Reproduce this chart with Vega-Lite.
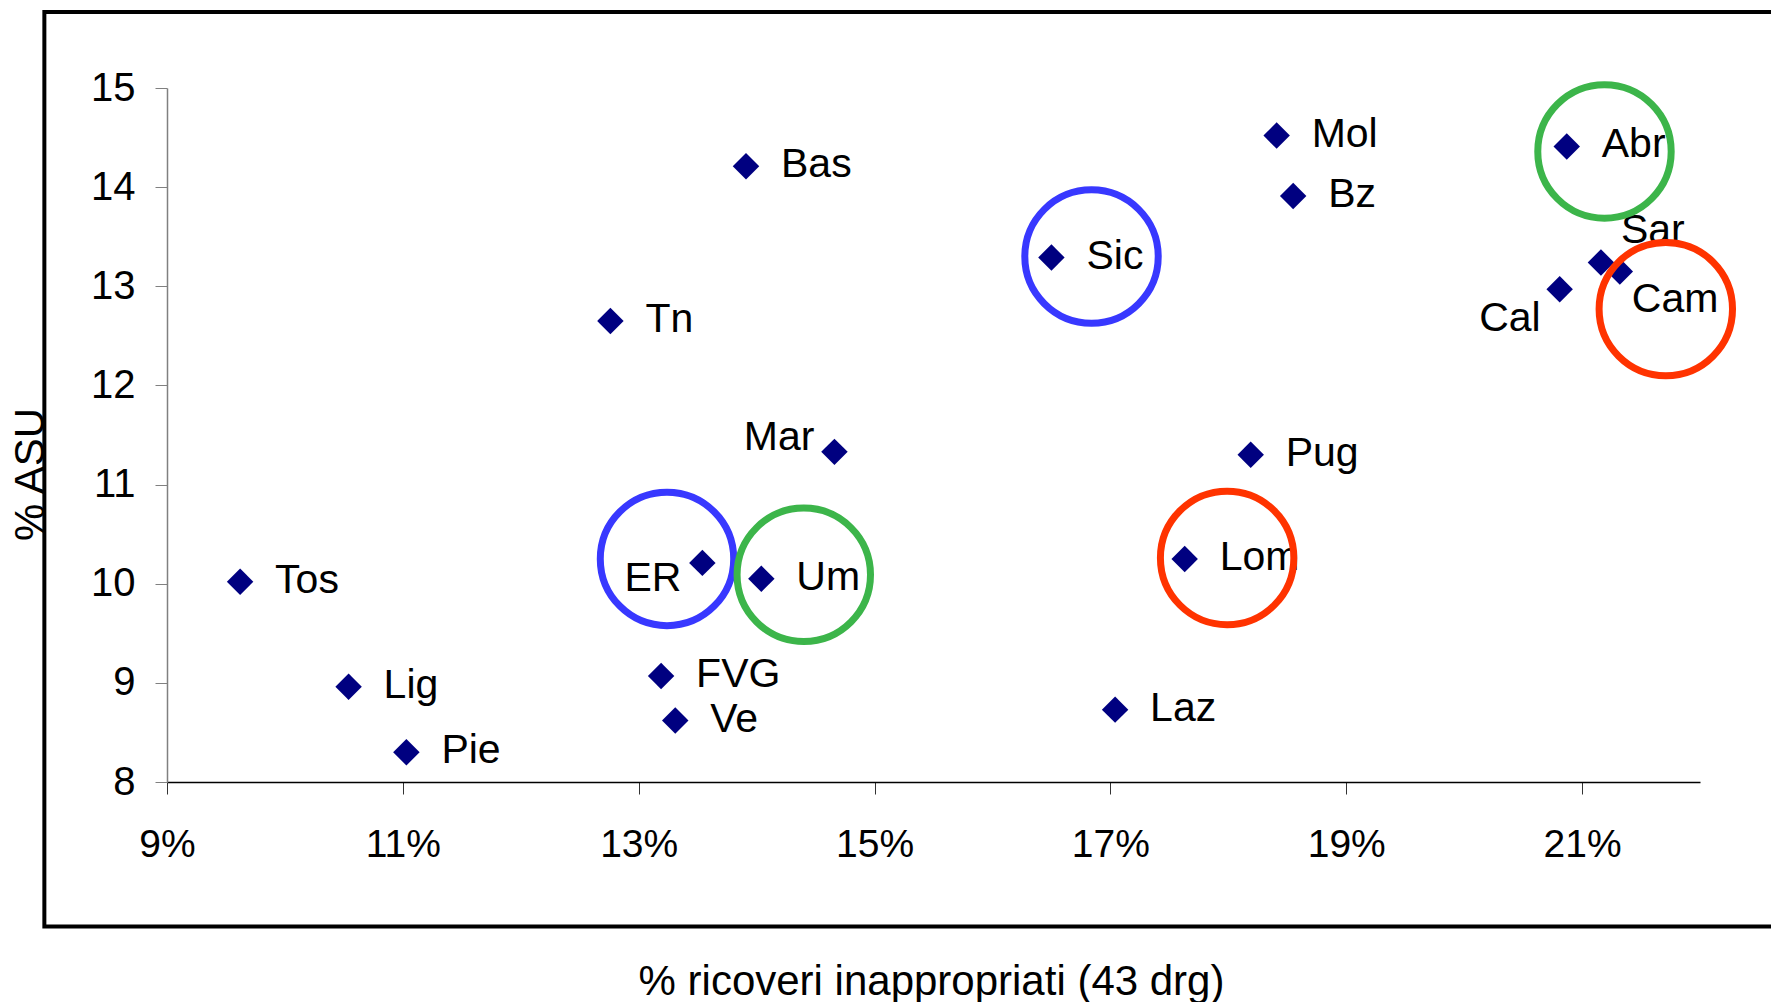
{
  "$schema": "https://vega.github.io/schema/vega-lite/v6.json",
  "width": 1533,
  "height": 694,
  "autosize": {"type": "none"},
  "padding": {"left": 167, "top": 88, "right": 71, "bottom": 220},
  "background": "white",
  "config": {
    "view": {"stroke": null},
    "font": "Liberation Sans",
    "text": {"font": "Liberation Sans"}
  },
  "datasets": {
    "regions": [
      {"name": "Tos", "x": 0.0962, "y": 10.02},
      {"name": "Lig", "x": 0.1054, "y": 8.96},
      {"name": "Pie", "x": 0.1103, "y": 8.30},
      {"name": "Tn", "x": 0.1276, "y": 12.65},
      {"name": "FVG", "x": 0.1319, "y": 9.07},
      {"name": "Ve", "x": 0.1331, "y": 8.62},
      {"name": "ER", "x": 0.1354, "y": 10.21},
      {"name": "Bas", "x": 0.1391, "y": 14.21},
      {"name": "Um", "x": 0.1404, "y": 10.05},
      {"name": "Mar", "x": 0.1466, "y": 11.33},
      {"name": "Sic", "x": 0.1650, "y": 13.29},
      {"name": "Laz", "x": 0.1704, "y": 8.73},
      {"name": "Lom", "x": 0.1763, "y": 10.25},
      {"name": "Pug", "x": 0.1819, "y": 11.30},
      {"name": "Mol", "x": 0.1841, "y": 14.52},
      {"name": "Bz", "x": 0.1855, "y": 13.91},
      {"name": "Cal", "x": 0.2081, "y": 12.97},
      {"name": "Abr", "x": 0.2087, "y": 14.41},
      {"name": "Sar", "x": 0.2116, "y": 13.24},
      {"name": "Cam", "x": 0.2132, "y": 13.15}
    ],
    "rings": [
      {"name": "Sic", "x": 0.1684, "y": 13.30, "group": "blu"},
      {"name": "ER", "x": 0.1324, "y": 10.25, "group": "blu"},
      {"name": "Um", "x": 0.1440, "y": 10.09, "group": "verde"},
      {"name": "Lom", "x": 0.1799, "y": 10.26, "group": "rosso"},
      {"name": "Abr", "x": 0.2119, "y": 14.36, "group": "verde"},
      {"name": "Cam", "x": 0.2171, "y": 12.77, "group": "rosso"}
    ]
  },
  "layer": [
    {
      "data": {"values": [{"frame": 1}]},
      "mark": {"type": "rect", "fill": null, "stroke": "black", "strokeWidth": 4, "clip": false},
      "encoding": {
        "x": {"datum": 0.0796, "type": "quantitative"},
        "x2": {"datum": 0.2268},
        "y": {"datum": 15.767, "type": "quantitative"},
        "y2": {"datum": 6.5425}
      }
    },
    {
      "data": {"name": "regions"},
      "mark": {"type": "point", "shape": "diamond", "filled": true, "color": "#000080", "opacity": 1, "size": 700},
      "encoding": {
        "x": {
          "field": "x", "type": "quantitative",
          "scale": {"domain": [0.09, 0.22], "nice": false, "zero": false},
          "axis": {
            "values": [0.09, 0.11, 0.13, 0.15, 0.17, 0.19, 0.21],
            "format": ".0%",
            "grid": false,
            "domainColor": "#000000",
            "domainWidth": 1.5,
            "tickColor": "#333333",
            "tickSize": 12,
            "labelFont": "Liberation Sans",
            "labelFontSize": 39,
            "labelColor": "#000000",
            "labelBaseline": "alphabetic",
            "labelPadding": 62,
            "labelFlush": false,
            "labelOverlap": false,
            "title": "% ricoveri inappropriati (43 drg)",
            "titleFont": "Liberation Sans",
            "titleFontSize": 42,
            "titleFontWeight": "normal",
            "titleColor": "#000000",
            "titleBaseline": "alphabetic",
            "titleX": 764,
            "titleY": 212
          }
        },
        "y": {
          "field": "y", "type": "quantitative",
          "scale": {"domain": [8, 15], "nice": false, "zero": false},
          "axis": {
            "values": [8, 9, 10, 11, 12, 13, 14, 15],
            "format": "d",
            "grid": false,
            "domainColor": "#808080",
            "domainWidth": 1.5,
            "tickColor": "#808080",
            "tickSize": 12,
            "labelFont": "Liberation Sans",
            "labelFontSize": 40,
            "labelColor": "#000000",
            "labelPadding": 20,
            "labelFlush": false,
            "labelOverlap": false,
            "title": "% ASU",
            "titleFont": "Liberation Sans",
            "titleFontSize": 42,
            "titleFontWeight": "normal",
            "titleColor": "#000000",
            "titleAngle": -90,
            "titleAlign": "center",
            "titleBaseline": "middle",
            "titleX": -137,
            "titleY": 386
          }
        }
      }
    },
    {
      "data": {"name": "regions"},
      "transform": [{"filter": "indexof(['Mar','ER','Cal','Sar','Cam'], datum.name) < 0"}],
      "mark": {"type": "text", "align": "left", "baseline": "middle", "dx": 35, "dy": -1, "fontSize": 41, "color": "#000000"},
      "encoding": {
        "x": {"field": "x", "type": "quantitative"},
        "y": {"field": "y", "type": "quantitative"},
        "text": {"field": "name"}
      }
    },
    {
      "data": {"name": "regions"},
      "transform": [{"filter": "datum.name === 'Mar'"}],
      "mark": {"type": "text", "align": "right", "baseline": "middle", "dx": -20, "dy": -14, "fontSize": 41, "color": "#000000"},
      "encoding": {
        "x": {"field": "x", "type": "quantitative"},
        "y": {"field": "y", "type": "quantitative"},
        "text": {"field": "name"}
      }
    },
    {
      "data": {"name": "regions"},
      "transform": [{"filter": "datum.name === 'ER'"}],
      "mark": {"type": "text", "align": "right", "baseline": "middle", "dx": -21, "dy": 16, "fontSize": 41, "color": "#000000"},
      "encoding": {
        "x": {"field": "x", "type": "quantitative"},
        "y": {"field": "y", "type": "quantitative"},
        "text": {"field": "name"}
      }
    },
    {
      "data": {"name": "regions"},
      "transform": [{"filter": "datum.name === 'Cal'"}],
      "mark": {"type": "text", "align": "right", "baseline": "middle", "dx": -19, "dy": 30, "fontSize": 41, "color": "#000000"},
      "encoding": {
        "x": {"field": "x", "type": "quantitative"},
        "y": {"field": "y", "type": "quantitative"},
        "text": {"field": "name"}
      }
    },
    {
      "data": {"name": "regions"},
      "transform": [{"filter": "datum.name === 'Sar'"}],
      "mark": {"type": "text", "align": "left", "baseline": "middle", "dx": 20, "dy": -31, "fontSize": 41, "color": "#000000"},
      "encoding": {
        "x": {"field": "x", "type": "quantitative"},
        "y": {"field": "y", "type": "quantitative"},
        "text": {"field": "name"}
      }
    },
    {
      "data": {"name": "regions"},
      "transform": [{"filter": "datum.name === 'Cam'"}],
      "mark": {"type": "text", "align": "left", "baseline": "middle", "dx": 12, "dy": 29, "fontSize": 41, "color": "#000000"},
      "encoding": {
        "x": {"field": "x", "type": "quantitative"},
        "y": {"field": "y", "type": "quantitative"},
        "text": {"field": "name"}
      }
    },
    {
      "data": {"name": "rings"},
      "mark": {"type": "point", "shape": "circle", "filled": false, "size": 17800, "strokeWidth": 7, "opacity": 1},
      "encoding": {
        "x": {"field": "x", "type": "quantitative"},
        "y": {"field": "y", "type": "quantitative"},
        "color": {
          "field": "group", "type": "nominal",
          "scale": {"domain": ["blu", "verde", "rosso"], "range": ["#3838FF", "#3CB54A", "#FF3300"]},
          "legend": null
        }
      }
    }
  ]
}
